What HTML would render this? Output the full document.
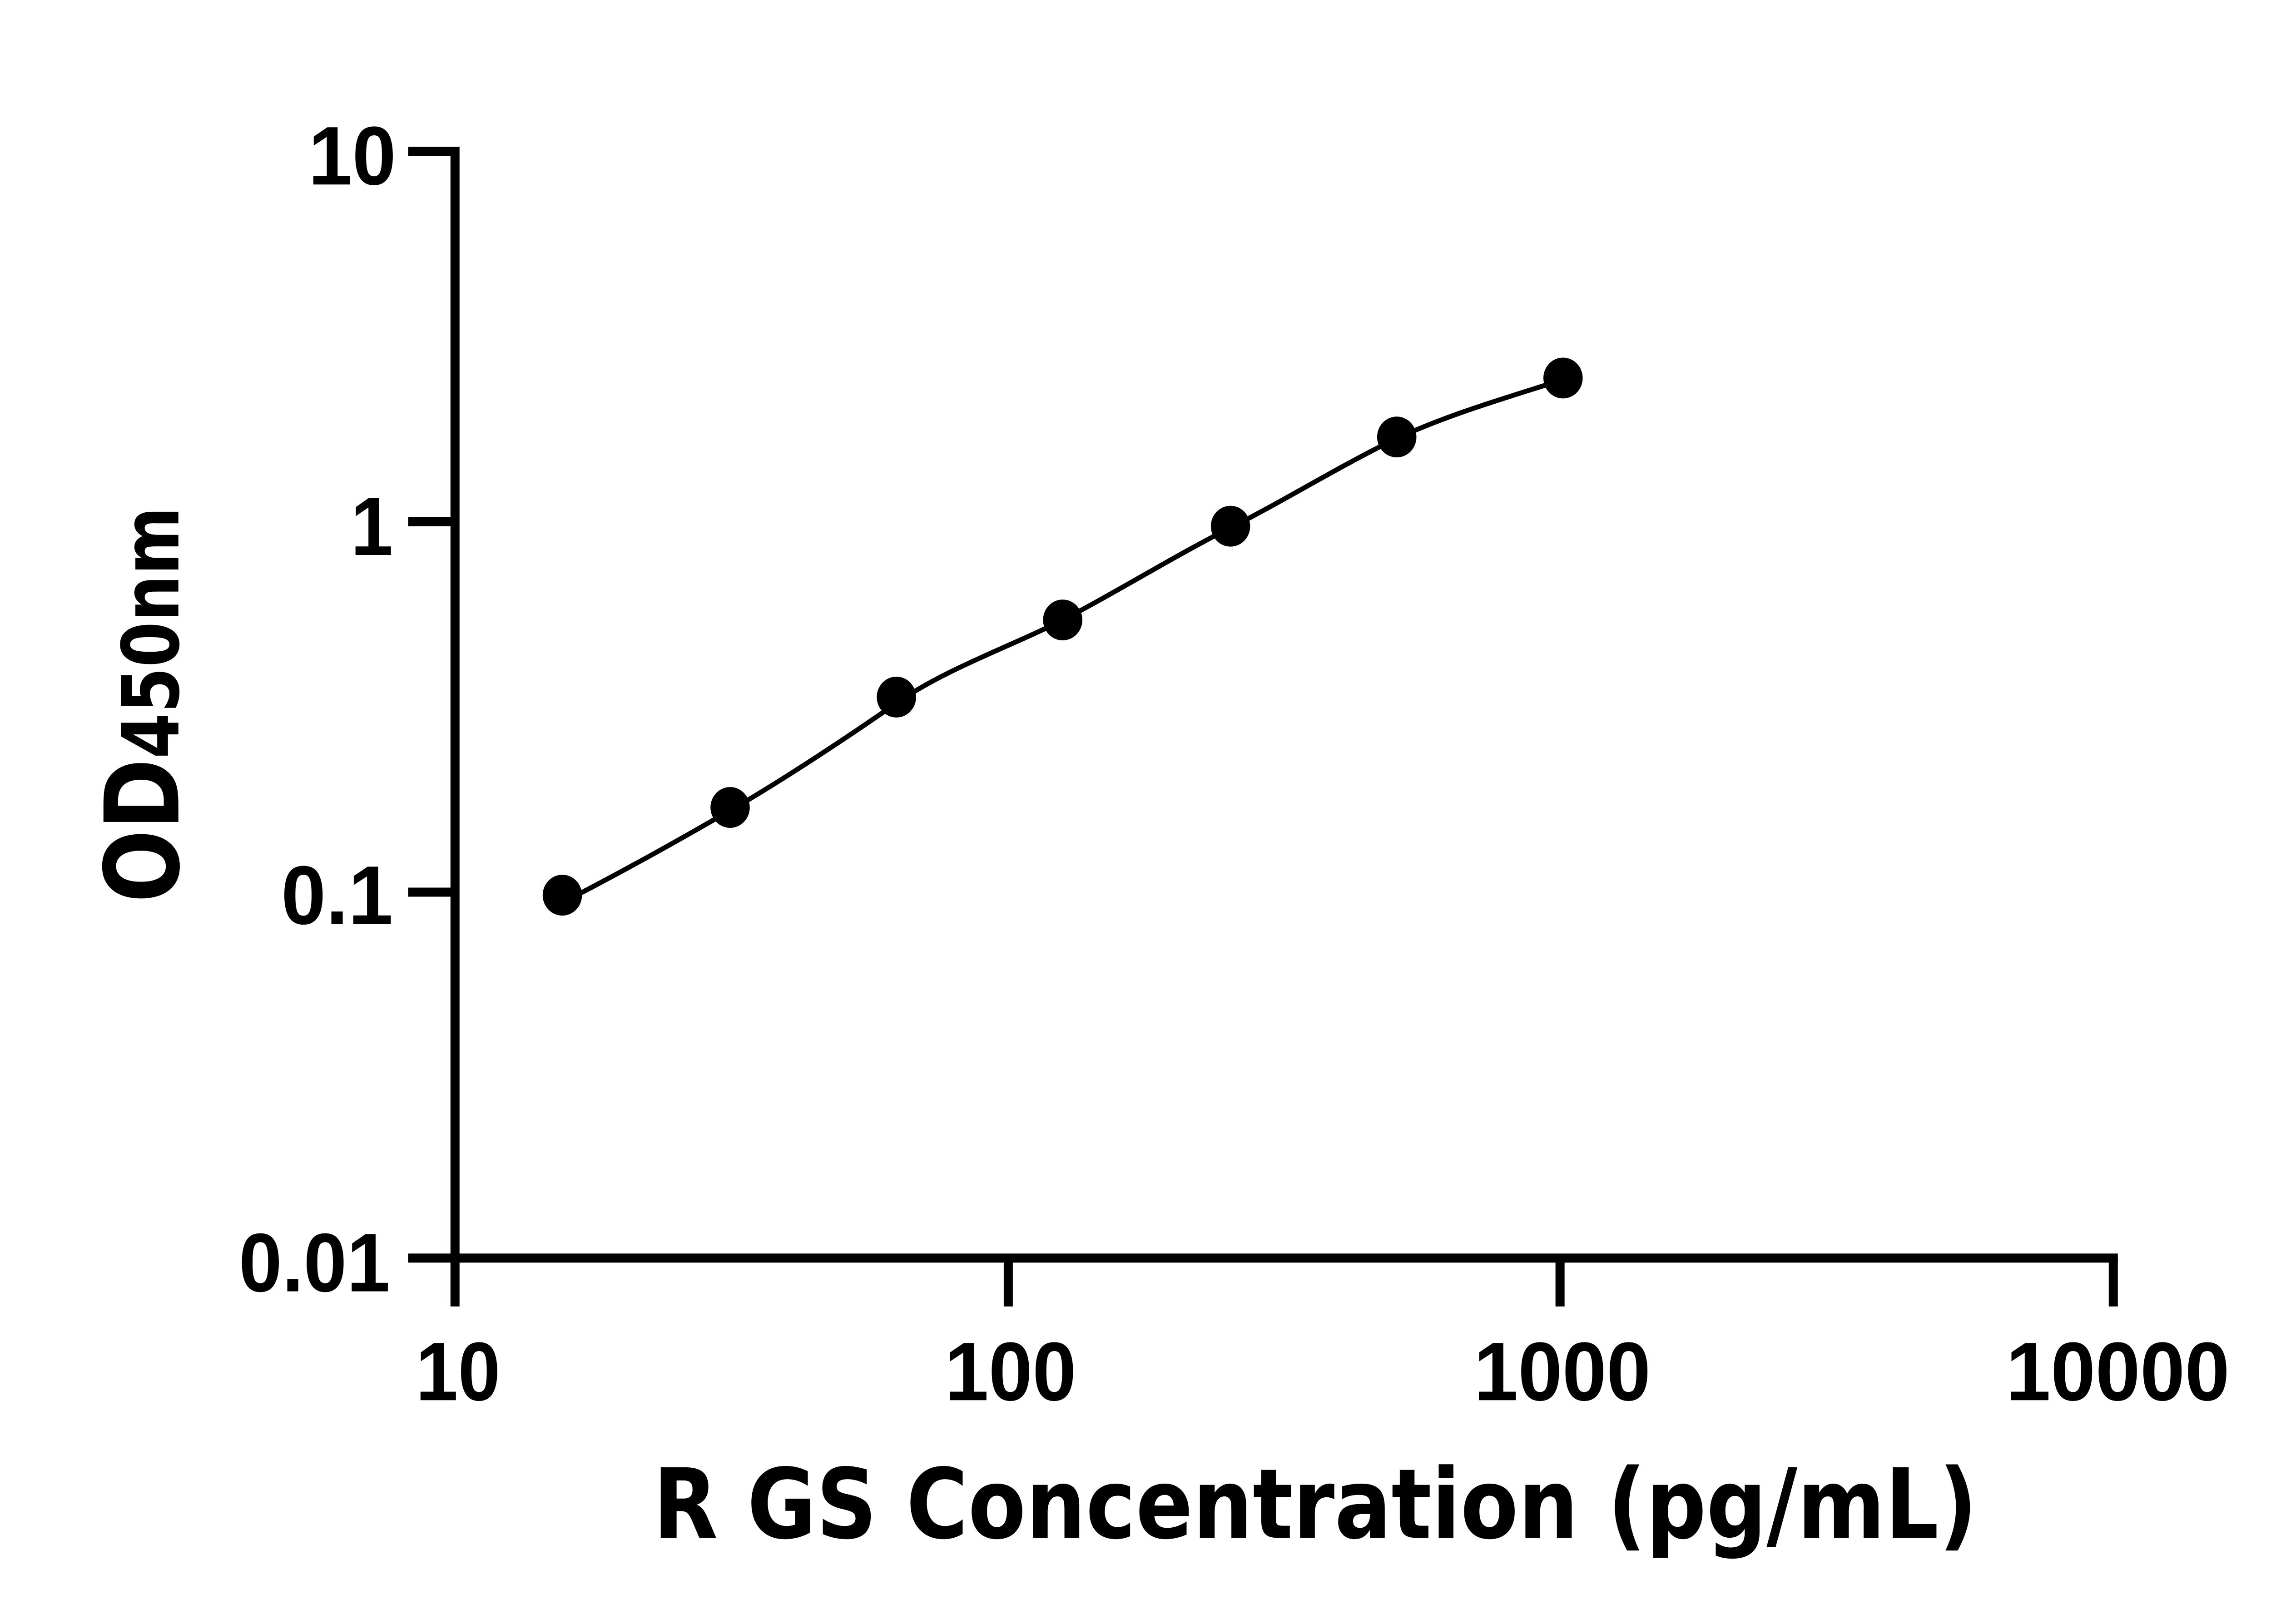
<!DOCTYPE html>
<html><head><meta charset="utf-8"><style>html,body{margin:0;padding:0;background:#fff}svg{display:block}</style></head>
<body>
<svg width="5142" height="3576" viewBox="0 0 1545 1074" preserveAspectRatio="none" xmlns="http://www.w3.org/2000/svg">
<g stroke="#000" stroke-width="6" fill="none" stroke-linecap="butt">
<line x1="301" y1="97" x2="301" y2="835"/>
<line x1="298" y1="832" x2="1401" y2="832"/>
<line x1="270" y1="100" x2="301" y2="100"/>
<line x1="270" y1="345" x2="301" y2="345"/>
<line x1="270" y1="590" x2="301" y2="590"/>
<line x1="270" y1="832" x2="301" y2="832"/>
<line x1="301" y1="832" x2="301" y2="864"/>
<line x1="667" y1="832" x2="667" y2="864"/>
<line x1="1032" y1="832" x2="1032" y2="864"/>
<line x1="1398" y1="832" x2="1398" y2="864"/>
</g>
<path d="M372,597 C420,572 450,555 483,536 S560,488 593,465 S670,427 703,410 S780,366 814,349 S890,306 924,290 S1000,262 1034,251" stroke="#000" stroke-width="3.2" fill="none"/>
<g fill="#000">
<ellipse cx="372" cy="592" rx="13" ry="13.5"/>
<ellipse cx="483" cy="534" rx="13" ry="13.5"/>
<ellipse cx="593" cy="461" rx="13" ry="13.5"/>
<ellipse cx="703" cy="410" rx="13" ry="13.5"/>
<ellipse cx="814" cy="348" rx="13" ry="13.5"/>
<ellipse cx="924" cy="289" rx="13" ry="13.5"/>
<ellipse cx="1034" cy="250" rx="13" ry="13.5"/>
</g>
<g font-family="Liberation Sans, Arial, sans-serif" font-weight="bold" font-size="55" fill="#000">
<text x="204" y="122" textLength="58" lengthAdjust="spacingAndGlyphs">10</text>
<text x="232" y="367" textLength="28" lengthAdjust="spacingAndGlyphs">1</text>
<text x="186" y="611" textLength="74" lengthAdjust="spacingAndGlyphs">0.1</text>
<text x="158" y="854" textLength="100" lengthAdjust="spacingAndGlyphs">0.01</text>
<text x="275" y="926" textLength="56" lengthAdjust="spacingAndGlyphs">10</text>
<text x="625" y="926" textLength="87" lengthAdjust="spacingAndGlyphs">100</text>
<text x="975" y="926" textLength="117" lengthAdjust="spacingAndGlyphs">1000</text>
<text x="1327" y="926" textLength="148" lengthAdjust="spacingAndGlyphs">10000</text>
</g>
<text x="432" y="1017" font-family="DejaVu Sans, Liberation Sans, sans-serif" font-weight="bold" font-size="64" textLength="876" lengthAdjust="spacingAndGlyphs" fill="#000">R GS Concentration (pg/mL)</text>
<text transform="translate(118,597) rotate(-90)" font-family="DejaVu Sans, Liberation Sans, sans-serif" font-weight="bold" fill="#000" textLength="262" lengthAdjust="spacingAndGlyphs"><tspan font-size="68">OD</tspan><tspan font-size="52">450nm</tspan></text>
</svg>
</body></html>
